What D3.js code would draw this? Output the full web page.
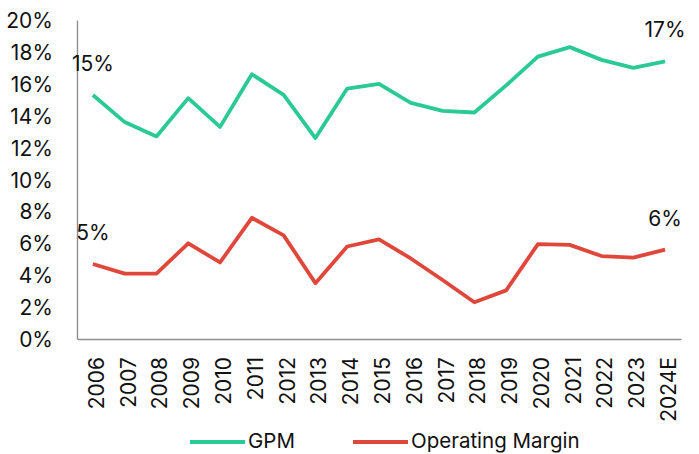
<!DOCTYPE html>
<html>
<head>
<meta charset="utf-8">
<script src="https://cdn.jsdelivr.net/npm/d3@7"></script>
<style>
  body { margin: 0; background: #fff; }
  text { font-family: Inter, "Liberation Sans", sans-serif; fill: #111; }
</style>
</head>
<body>
<div id="container"></div>
<script>
// data
var years = ["2006", "2007", "2008", "2009", "2010", "2011", "2012", "2013", "2014", "2015",
             "2016", "2017", "2018", "2019", "2020", "2021", "2022", "2023", "2024E"];
var gpm = [15.3, 13.6, 12.7, 15.1, 13.3, 16.6, 15.3, 12.6, 15.7, 16.0,
           14.8, 14.3, 14.2, 15.9, 17.7, 18.3, 17.5, 17.0, 17.4];
var opMargin = [4.7, 4.1, 4.1, 6.0, 4.8, 7.6, 6.5, 3.5, 5.8, 6.25,
                5.05, 3.7, 2.3, 3.05, 5.95, 5.9, 5.2, 5.1, 5.6];
var yTicks = [0, 2, 4, 6, 8, 10, 12, 14, 16, 18, 20];
var seriesNames = ["GPM", "Operating Margin"];
var seriesColors = ["#2bca94", "#e0473b"];

var margin = {top: 20, right: 18, bottom: 115, left: 77},
    width = 699 - margin.left - margin.right,
    height = 454 - margin.top - margin.bottom;

var svg = d3.select("#container")
  .append("svg")
    .attr("width", width + margin.left + margin.right)
    .attr("height", height + margin.top + margin.bottom)
  .append("g")
    .attr("transform", "translate(" + margin.left + "," + margin.top + ")");

var x = d3.scaleBand()
  .domain(years)
  .range([0, width])
  .padding(0);

var y = d3.scaleLinear()
  .domain([0, 20])
  .range([height, 0]);

function cx(d, i) { return x(years[i]) + x.bandwidth() / 2; }

// Y axis
var yAxis = svg.append("g")
  .call(d3.axisLeft(y).tickValues(yTicks).tickSize(0).tickPadding(24)
    .tickFormat(function (d) { return d + "%"; }));
yAxis.select(".domain").attr("stroke", "#8f8f8f").attr("stroke-width", 1.4);
yAxis.selectAll("text").style("font-size", "21px").attr("dy", "0.36em");

// X axis
var xAxis = svg.append("g")
  .attr("transform", "translate(0," + height + ")")
  .call(d3.axisBottom(x).tickSize(0).tickPadding(0));
xAxis.select(".domain").attr("stroke", "#8f8f8f").attr("stroke-width", 1.4);
xAxis.selectAll("text")
  .style("font-size", "21px")
  .attr("text-anchor", "end")
  .attr("transform", "rotate(-90)")
  .attr("x", -18)
  .attr("y", 0)
  .attr("dy", "0.52em");

// Lines
var line = d3.line()
  .x(cx)
  .y(function (d) { return y(d); });

[gpm, opMargin].forEach(function (s, k) {
  svg.append("path")
    .datum(s)
    .attr("fill", "none")
    .attr("stroke", seriesColors[k])
    .attr("stroke-width", 3.8)
    .attr("stroke-linejoin", "round")
    .attr("d", line);

  // first and last value labels
  [0, s.length - 1].forEach(function (i) {
    svg.append("text")
      .attr("x", cx(s[i], i))
      .attr("y", y(s[i]) - 24)
      .attr("text-anchor", "middle")
      .style("font-size", "21px")
      .text(Math.round(s[i]) + "%");
  });
});

// Legend
var legendX = [190, 353];
var legend = svg.selectAll("g.legend")
  .data(seriesNames)
  .enter()
  .append("g")
  .attr("class", "legend")
  .attr("transform", function (d, i) {
    return "translate(" + (legendX[i] - margin.left) + "," + (441 - margin.top) + ")";
  });
legend.append("line")
  .attr("x1", 0).attr("x2", 55)
  .attr("y1", 1).attr("y2", 1)
  .attr("stroke", function (d, i) { return seriesColors[i]; })
  .attr("stroke-width", 4);
legend.append("text")
  .attr("x", 58)
  .attr("dy", "0.36em")
  .style("font-size", "20.5px")
  .text(function (d) { return d; });
</script>
</body>
</html>
